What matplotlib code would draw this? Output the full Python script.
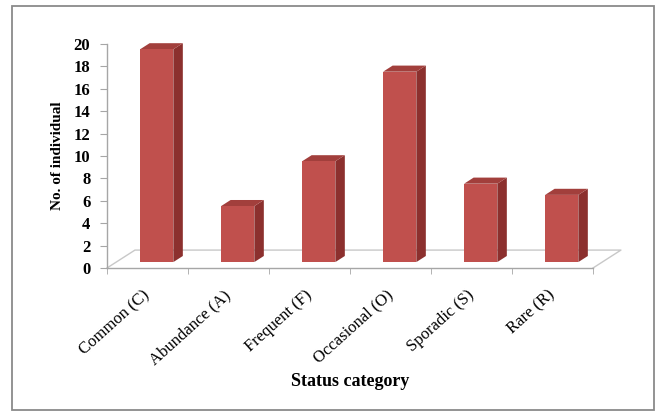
import matplotlib.pyplot as plt
from matplotlib.patches import Polygon, Rectangle
import numpy as np

categories = ['Common (C)', 'Abundance (A)', 'Frequent (F)',
              'Occasional (O)', 'Sporadic (S)', 'Rare (R)']
counts = [19, 5, 9, 17, 7, 6]
y_ticks = list(range(0, 21, 2))

plt.rcParams['font.family'] = ['Liberation Serif', 'DejaVu Serif']

# oblique depth of the 3-D floor, in data units
DX, DY = 0.345, 1.6
f0, f1 = 0.33, 0.67     # bar sits in the middle of the floor depth
bw = 0.41

front_c = '#C0504D'
side_c = '#8C302E'
top_c = '#A23F3C'
grid_c = '#A6A6A6'

fig = plt.figure(figsize=(6.59, 4.12), dpi=100)
fig.patches.append(Rectangle((12 / 659, 2 / 412), 642 / 659, 404 / 412,
                             transform=fig.transFigure, fill=False,
                             edgecolor='#8a8a8a', linewidth=1.3))

ax = fig.add_axes([107 / 659, 144 / 412, 486 / 659, 224 / 412])
n = len(categories)
ax.set_xlim(0, n)
ax.set_ylim(0, 20)

# floor
ax.plot([0, DX, n + DX, n], [0, DY, DY, 0], color='#C8C8C8', lw=1.0,
        clip_on=False, zorder=1)

# 3-D bars
d = f1 - f0
for i, v in enumerate(counts):
    x0 = i + (1 - bw) / 2 + f0 * DX
    y0 = f0 * DY
    ax.add_patch(Polygon([(x0 + bw, y0), (x0 + bw + d * DX, y0 + d * DY),
                          (x0 + bw + d * DX, y0 + d * DY + v), (x0 + bw, y0 + v)],
                         closed=True, facecolor=side_c, edgecolor='none',
                         clip_on=False, zorder=3))
    ax.add_patch(Polygon([(x0, y0 + v), (x0 + bw, y0 + v),
                          (x0 + bw + d * DX, y0 + v + d * DY), (x0 + d * DX, y0 + v + d * DY)],
                         closed=True, facecolor=top_c, edgecolor='none',
                         clip_on=False, zorder=3))
    ax.add_patch(Rectangle((x0, y0), bw, v, facecolor=front_c,
                           edgecolor='none', clip_on=False, zorder=4))

for s in ['top', 'right']:
    ax.spines[s].set_visible(False)
for s in ['left', 'bottom']:
    ax.spines[s].set_color(grid_c)
    ax.spines[s].set_linewidth(1.0)

ax.set_yticks(y_ticks)
ax.set_yticklabels([str(t) for t in y_ticks], fontweight='bold', fontsize=12)
ax.tick_params(axis='y', length=5, color=grid_c, pad=7)

ax.set_xticks(np.arange(n) + 0.5)
ax.set_xticklabels(categories, rotation=42, ha='right', va='center',
                   rotation_mode='anchor', fontsize=12)
ax.tick_params(axis='x', which='major', length=0, pad=18)
ax.set_xticks(np.arange(n + 1), minor=True)
ax.tick_params(axis='x', which='minor', length=4, color=grid_c)

ax.set_ylabel('No. of individual', fontweight='bold', fontsize=11, labelpad=7)
fig.text(350 / 659, 1 - 381 / 412, 'Status category', ha='center', va='center',
         fontweight='bold', fontsize=13)

fig.savefig('out.png', dpi=100)
